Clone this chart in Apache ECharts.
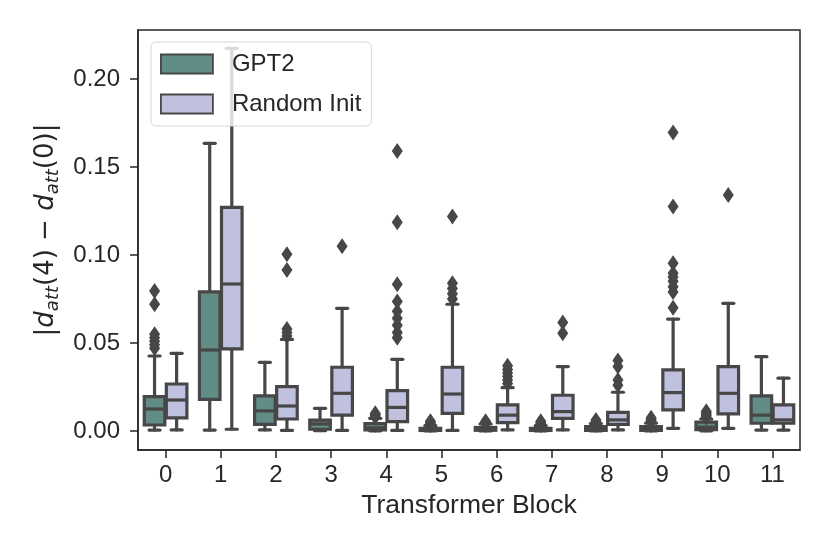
<!DOCTYPE html>
<html>
<head>
<meta charset="utf-8">
<script src="https://cdn.jsdelivr.net/npm/echarts@6/dist/echarts.min.js"></script>
<style>
html,body{margin:0;padding:0;background:#fff;}
#chart{width:830px;height:554px;}
</style>
</head>
<body>
<div id="chart"></div>
<script>
// ---- data ----
const categories = ['0','1','2','3','4','5','6','7','8','9','10','11'];
const yTicks = [0, 0.05, 0.10, 0.15, 0.20];

// [min, q1, median, q3, max]
const gpt2Boxes = [
  [0.0005, 0.0034, 0.0125, 0.0195, 0.0426],
  [0.0005, 0.0180, 0.0460, 0.0790, 0.1634],
  [0.0006, 0.0038, 0.0114, 0.0200, 0.0390],
  [0.0002, 0.0010, 0.0040, 0.0062, 0.0129],
  [0.0001, 0.0006, 0.0018, 0.0042, 0.0072],
  [0.0000, 0.0003, 0.0008, 0.0015, 0.0030],
  [0.0000, 0.0004, 0.0010, 0.0020, 0.0040],
  [0.0000, 0.0003, 0.0008, 0.0015, 0.0030],
  [0.0000, 0.0004, 0.0012, 0.0025, 0.0042],
  [0.0000, 0.0004, 0.0012, 0.0025, 0.0045],
  [0.0001, 0.0008, 0.0022, 0.0050, 0.0068],
  [0.0005, 0.0044, 0.0090, 0.0199, 0.0422]
];
const randomBoxes = [
  [0.0006, 0.0074, 0.0176, 0.0267, 0.0441],
  [0.0010, 0.0466, 0.0835, 0.1270, 0.2174],
  [0.0003, 0.0068, 0.0142, 0.0252, 0.0520],
  [0.0003, 0.0090, 0.0214, 0.0362, 0.0697],
  [0.0003, 0.0053, 0.0134, 0.0229, 0.0407],
  [0.0003, 0.0100, 0.0210, 0.0362, 0.0720],
  [0.0006, 0.0047, 0.0090, 0.0148, 0.0246],
  [0.0006, 0.0072, 0.0110, 0.0203, 0.0366],
  [0.0006, 0.0038, 0.0063, 0.0106, 0.0220],
  [0.0015, 0.0120, 0.0218, 0.0347, 0.0636],
  [0.0015, 0.0097, 0.0214, 0.0366, 0.0725],
  [0.0005, 0.0044, 0.0063, 0.0148, 0.0300]
];
// outliers per block
const gpt2Outliers = [
  [0.047, 0.049, 0.051, 0.053, 0.055, 0.072, 0.0795],
  [], [], [],
  [0.0080, 0.0087, 0.0094, 0.0101],
  [0.0035, 0.0042, 0.0049, 0.0056],
  [0.0045, 0.0050, 0.0056],
  [0.0035, 0.0042, 0.0049, 0.0056],
  [0.0048, 0.0055, 0.0063],
  [0.0052, 0.0060, 0.0068, 0.0075],
  [0.0076, 0.0085, 0.0094, 0.0103, 0.0112],
  []
];
const randomOutliers = [
  [], [],
  [0.054, 0.056, 0.058, 0.0915, 0.1004],
  [0.105],
  [0.053, 0.056, 0.060, 0.064, 0.068, 0.0735, 0.0834, 0.1186, 0.159],
  [0.075, 0.078, 0.081, 0.084, 0.1218],
  [0.027, 0.029, 0.031, 0.033, 0.035, 0.037],
  [0.0555, 0.0616],
  [0.026, 0.029, 0.0366, 0.040],
  [0.070, 0.079, 0.082, 0.085, 0.0875, 0.0896, 0.0953, 0.1275, 0.1695],
  [0.134],
  []
];

// ---- styles ----
const EDGE = '#474747';
const GPT2_COLOR = '#628c86';
const RAND_COLOR = '#c0c1de';
const AXIS = '#262626';
const LW = 3.2;

function boxRenderer(side, fill) {
  return function (params, api) {
    const cat = api.value(0);
    const band = api.size([1, 0])[0];
    const w = band * 0.4;
    const cx = api.coord([cat, 0])[0] + side * w / 2;
    const bw = w - 1.5;
    const y = (i) => api.coord([cat, api.value(i)])[1];
    const yMin = y(1), yQ1 = y(2), yMed = y(3), yQ3 = y(4), yMax = y(5);
    const ls = { stroke: EDGE, lineWidth: LW, lineCap: 'round' };
    const cap = w / 4;
    return {
      type: 'group',
      children: [
        { type: 'line', shape: { x1: cx, y1: yMin, x2: cx, y2: yQ1 }, style: ls },
        { type: 'line', shape: { x1: cx, y1: yQ3, x2: cx, y2: yMax }, style: ls },
        { type: 'line', shape: { x1: cx - cap, y1: yMin, x2: cx + cap, y2: yMin }, style: ls },
        { type: 'line', shape: { x1: cx - cap, y1: yMax, x2: cx + cap, y2: yMax }, style: ls },
        { type: 'rect', shape: { x: cx - bw / 2, y: yQ3, width: bw, height: yQ1 - yQ3 },
          style: { fill: fill, stroke: EDGE, lineWidth: LW, lineJoin: 'miter' } },
        { type: 'line', shape: { x1: cx - bw / 2, y1: yMed, x2: cx + bw / 2, y2: yMed }, style: { stroke: EDGE, lineWidth: LW } }
      ]
    };
  };
}

function boxData(arr) {
  return arr.map((b, i) => [i, b[0], b[1], b[2], b[3], b[4]]);
}
function outlierData(arr) {
  const out = [];
  arr.forEach((vals, i) => vals.forEach(v => out.push([i, v])));
  return out;
}

const chart = echarts.init(document.getElementById('chart'), null, { renderer: 'canvas' });

const option = {
  animation: false,
  backgroundColor: '#ffffff',
  grid: {
    left: 138, right: 30, top: 30, bottom: 104,
    show: true, borderColor: AXIS, borderWidth: 1.5, backgroundColor: 'transparent'
  },
  legend: {
    data: ['GPT2', 'Random Init'],
    orient: 'vertical',
    left: 151, top: 42,
    icon: 'rect',
    itemWidth: 52, itemHeight: 19, itemGap: 16,
    padding: [10, 10, 10, 9],
    backgroundColor: 'rgba(255,255,255,0.8)',
    borderColor: '#d6d6d6', borderWidth: 1, borderRadius: 5,
    itemStyle: { borderColor: EDGE, borderWidth: 1.8 },
    textStyle: { fontFamily: 'Liberation Sans', fontSize: 24, color: AXIS, padding: [0, 0, 0, 14] },
    z: 10
  },
  xAxis: {
    type: 'category',
    data: categories,
    axisLine: { show: true, onZero: false, lineStyle: { color: AXIS, width: 1.5 } },
    axisTick: { show: true, alignWithLabel: true, length: 8, lineStyle: { color: AXIS, width: 1.5 } },
    axisLabel: { fontFamily: 'Liberation Sans', fontSize: 24, color: AXIS, margin: 13 },
    splitLine: { show: false },
    name: 'Transformer Block',
    nameLocation: 'middle',
    nameGap: 42,
    nameTextStyle: { fontFamily: 'Liberation Sans', fontSize: 26.5, color: AXIS }
  },
  yAxis: {
    type: 'value',
    min: -0.0108,
    max: 0.2278,
    axisLine: { show: true, lineStyle: { color: AXIS, width: 1.5 } },
    axisTick: { show: true, length: 8, customValues: yTicks, lineStyle: { color: AXIS, width: 1.5 } },
    axisLabel: {
      fontFamily: 'Liberation Sans', fontSize: 24, color: AXIS, margin: 18,
      customValues: yTicks,
      formatter: (v) => v.toFixed(2)
    },
    splitLine: { show: false },
    name: '{t||}{i|d}{s|att}{t|(4) − }{i|d}{s|att}{t|(0)|}',
    nameLocation: 'middle',
    nameGap: 76,
    nameTextStyle: {
      color: AXIS,
      padding: [0, 0, 0, 20],
      rich: {
        t: { fontFamily: 'DejaVu Sans', fontSize: 26, color: AXIS, lineHeight: 32, verticalAlign: 'middle' },
        i: { fontFamily: 'DejaVu Sans', fontStyle: 'italic', fontSize: 26, color: AXIS, lineHeight: 32, verticalAlign: 'middle' },
        s: { fontFamily: 'DejaVu Sans', fontStyle: 'italic', fontSize: 18, color: AXIS, lineHeight: 15, verticalAlign: 'bottom' }
      }
    }
  },
  series: [
    {
      name: 'GPT2',
      type: 'custom',
      renderItem: boxRenderer(-1, GPT2_COLOR),
      itemStyle: { color: GPT2_COLOR },
      encode: { x: 0, y: [1, 2, 3, 4, 5] },
      data: boxData(gpt2Boxes),
      z: 3
    },
    {
      name: 'Random Init',
      type: 'custom',
      renderItem: boxRenderer(1, RAND_COLOR),
      itemStyle: { color: RAND_COLOR },
      encode: { x: 0, y: [1, 2, 3, 4, 5] },
      data: boxData(randomBoxes),
      z: 3
    },
    {
      name: 'GPT2 outliers',
      type: 'scatter',
      symbol: 'diamond',
      symbolSize: [11, 16],
      symbolOffset: [-11, 0],
      itemStyle: { color: EDGE, opacity: 1 },
      data: outlierData(gpt2Outliers),
      z: 4
    },
    {
      name: 'Random outliers',
      type: 'scatter',
      symbol: 'diamond',
      symbolSize: [11, 16],
      symbolOffset: [11, 0],
      itemStyle: { color: EDGE, opacity: 1 },
      data: outlierData(randomOutliers),
      z: 4
    }
  ]
};
chart.setOption(option);
</script>
</body>
</html>
